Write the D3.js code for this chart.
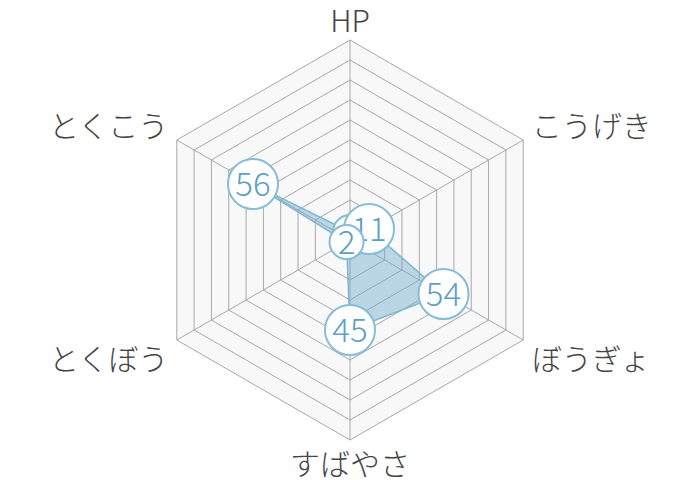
<!DOCTYPE html>
<html>
<head>
<meta charset="utf-8">
<script src="https://cdn.jsdelivr.net/npm/d3@7"></script>
<style>
  body { margin: 0; background: #fff; }
  text { font-family: "Noto Sans CJK JP", "Noto Sans", sans-serif; }
</style>
</head>
<body>
<div id="my_dataviz"></div>
<script>
// axis labels, clockwise from the top
var stats = ["HP", "こうげき", "ぼうぎょ", "すばやさ", "とくぼう", "とくこう"];
var values = [4, 11, 54, 45, 2, 56];
var ringSteps = [10, 20, 30, 40, 50, 60, 70, 80, 90, 100];

var width = 700, height = 480;
var cx = 350, cy = 240, radius = 200;

var svg = d3.select("#my_dataviz")
  .append("svg")
    .attr("width", width)
    .attr("height", height)
  .append("g")
    .attr("transform", "translate(" + cx + "," + cy + ")");

var r = d3.scaleLinear().domain([0, 100]).range([0, radius]);

// angle of each axis, HP on top
var angle = d3.scalePoint()
  .domain(stats)
  .range([-Math.PI / 2, -Math.PI / 2 + 2 * Math.PI * (stats.length - 1) / stats.length]);

function pt(name, v) {
  var a = angle(name);
  return [Math.cos(a) * r(v), Math.sin(a) * r(v)];
}

var ring = d3.line();

// background
svg.append("path")
  .attr("d", ring(stats.map(function(s) { return pt(s, 100); })) + "Z")
  .attr("fill", "#f8f8f8");

// grid rings
svg.selectAll(".ring")
  .data(ringSteps)
  .enter().append("path")
    .attr("class", "ring")
    .attr("d", function(v) { return ring(stats.map(function(s) { return pt(s, v); })) + "Z"; })
    .attr("fill", "none")
    .attr("stroke", "#a8a8a8")
    .attr("stroke-width", 1);

// spokes
svg.selectAll(".spoke")
  .data(stats)
  .enter().append("line")
    .attr("class", "spoke")
    .attr("x1", 0).attr("y1", 0)
    .attr("x2", function(s) { return pt(s, 100)[0]; })
    .attr("y2", function(s) { return pt(s, 100)[1]; })
    .attr("stroke", "#a8a8a8")
    .attr("stroke-width", 1);

// axis names
svg.selectAll(".axisLabel")
  .data(stats)
  .enter().append("text")
    .attr("class", "axisLabel")
    .attr("x", function(s) { return pt(s, 105)[0]; })
    .attr("y", function(s) {
      var p = pt(s, 105);
      return p[1] < -1 ? p[1] + 2 : p[1] + 25;
    })
    .attr("text-anchor", function(s) {
      var x = pt(s, 105)[0];
      return Math.abs(x) < 1 ? "middle" : (x < 0 ? "end" : "start");
    })
    .attr("font-size", 30)
    .attr("font-weight", 300)
    .attr("fill", "#444")
    .text(function(s) { return s; });

// the data shape
svg.append("path")
  .attr("d", ring(stats.map(function(s, i) { return pt(s, values[i]); })) + "Z")
  .attr("fill", "rgba(110,170,205,0.45)")
  .attr("stroke", "#7fb6d2")
  .attr("stroke-width", 1.5);

// value bubbles
var bubble = svg.selectAll(".bubble")
  .data(stats)
  .enter().append("g")
    .attr("class", "bubble")
    .attr("transform", function(s, i) { return "translate(" + pt(s, values[i]) + ")"; });

bubble.append("circle")
  .attr("r", function(s, i) { return String(values[i]).length > 1 ? 25 : 17; })
  .attr("fill", "#fff")
  .attr("stroke", "#86bdd8")
  .attr("stroke-width", 2);

bubble.append("text")
  .attr("text-anchor", "middle")
  .attr("dy", "0.36em")
  .attr("font-size", 33)
  .attr("font-weight", 300)
  .attr("fill", "#5e9fc2")
  .text(function(s, i) { return values[i]; });
</script>
</body>
</html>
